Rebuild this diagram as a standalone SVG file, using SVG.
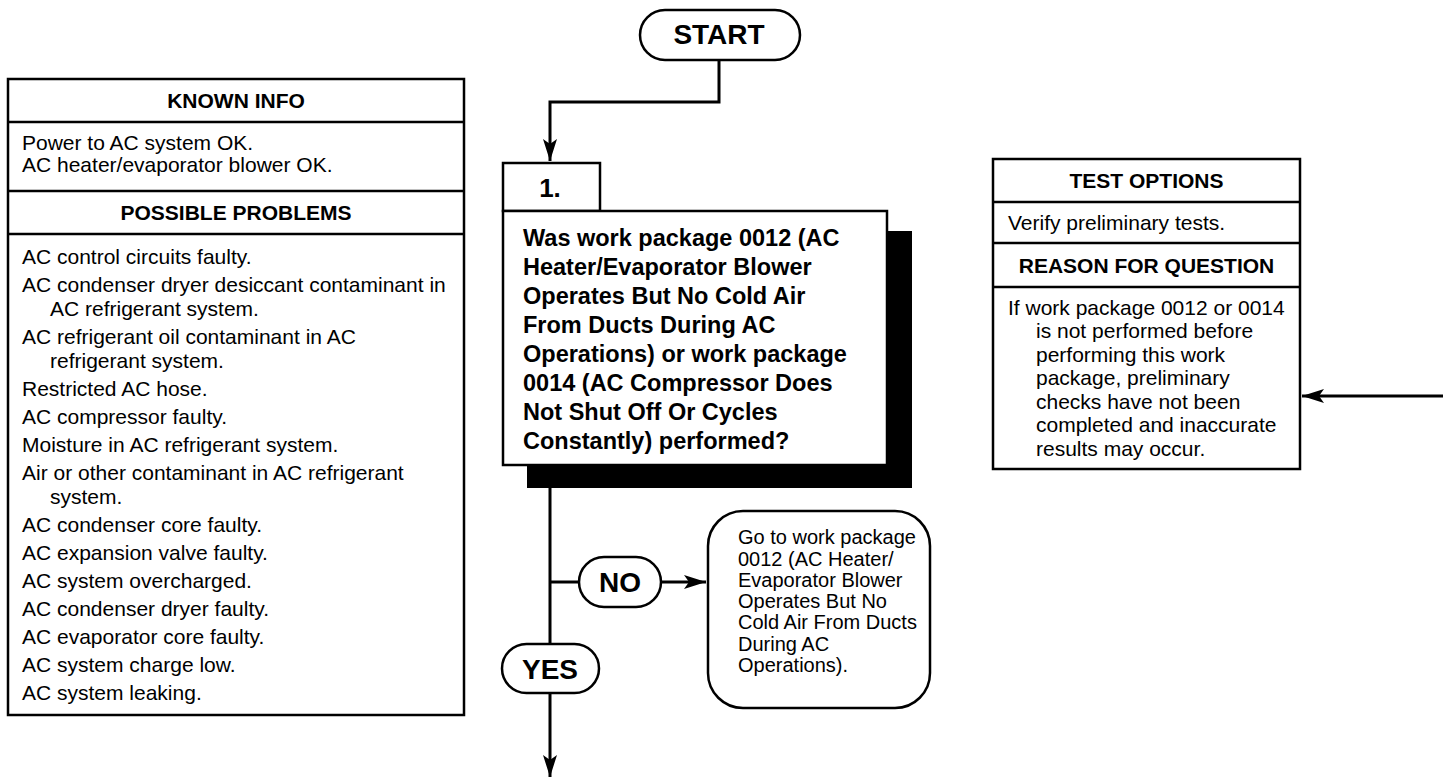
<svg xmlns="http://www.w3.org/2000/svg" width="1450" height="782" viewBox="0 0 1450 782">
<style>
.box{fill:#fff;stroke:#000;stroke-width:2.5}
.sep{stroke:#000;stroke-width:2.5}
.t{font-family:"Liberation Sans",Arial,sans-serif;font-size:21px;fill:#000}
.h{font-family:"Liberation Sans",Arial,sans-serif;font-size:21px;font-weight:bold;fill:#000;text-anchor:middle}
.q{font-family:"Liberation Sans",Arial,sans-serif;font-size:23.5px;font-weight:bold;fill:#000}
.pill{font-family:"Liberation Sans",Arial,sans-serif;font-size:28px;font-weight:bold;fill:#000;text-anchor:middle}
.g{font-family:"Liberation Sans",Arial,sans-serif;font-size:20px;fill:#000}
.c{fill:none;stroke:#000;stroke-width:3}
</style>
<defs>
<marker id="ah" markerUnits="userSpaceOnUse" markerWidth="24" markerHeight="16" refX="22" refY="7" orient="auto">
<path d="M0,0 L22,7 L0,14 L5,7 z" fill="#000"/>
</marker>
</defs>

<g id="connectors">
<path class="c" d="M719,60 V102 H550 V161" marker-end="url(#ah)"/>
<path class="c" d="M550,488 V777" marker-end="url(#ah)"/>
<path class="c" d="M550,582 H579"/>
<path class="c" d="M661,582 H706" marker-end="url(#ah)"/>
<path class="c" d="M1443,396 H1302" marker-end="url(#ah)"/>
</g>

<g id="known-info">
<rect class="box" x="8" y="79" width="456" height="636"/>
<line class="sep" x1="8" y1="122" x2="464" y2="122"/>
<line class="sep" x1="8" y1="191" x2="464" y2="191"/>
<line class="sep" x1="8" y1="234" x2="464" y2="234"/>
<text class="h" x="236" y="108">KNOWN INFO</text>
<text class="t" x="22" y="150">Power to AC system OK.</text>
<text class="t" x="22" y="171.5">AC heater/evaporator blower OK.</text>
<text class="h" x="236" y="220">POSSIBLE PROBLEMS</text>
<text class="t" x="22" y="263.5">AC control circuits faulty.</text>
<text class="t" x="22" y="291.5">AC condenser dryer desiccant contaminant in</text>
<text class="t" x="50" y="315.5">AC refrigerant system.</text>
<text class="t" x="22" y="343.5">AC refrigerant oil contaminant in AC</text>
<text class="t" x="50" y="367.5">refrigerant system.</text>
<text class="t" x="22" y="395.5">Restricted AC hose.</text>
<text class="t" x="22" y="423.5">AC compressor faulty.</text>
<text class="t" x="22" y="451.5">Moisture in AC refrigerant system.</text>
<text class="t" x="22" y="479.5">Air or other contaminant in AC refrigerant</text>
<text class="t" x="50" y="503.5">system.</text>
<text class="t" x="22" y="531.5">AC condenser core faulty.</text>
<text class="t" x="22" y="559.5">AC expansion valve faulty.</text>
<text class="t" x="22" y="587.5">AC system overcharged.</text>
<text class="t" x="22" y="615.5">AC condenser dryer faulty.</text>
<text class="t" x="22" y="643.5">AC evaporator core faulty.</text>
<text class="t" x="22" y="671.5">AC system charge low.</text>
<text class="t" x="22" y="699.5">AC system leaking.</text>
</g>

<g id="start">
<rect class="box" x="640" y="10" width="160" height="50" rx="25"/>
<text class="pill" x="719" y="44">START</text>
</g>

<g id="step1">
<rect x="527" y="231" width="385" height="257" fill="#000"/>
<rect class="box" x="503" y="163" width="97" height="48"/>
<text class="pill" x="550" y="197" style="font-size:26px">1.</text>
<rect class="box" x="503" y="211" width="384" height="254"/>
<text class="q" x="523" y="245.5">Was work package 0012 (AC</text>
<text class="q" x="523" y="274.5">Heater/Evaporator Blower</text>
<text class="q" x="523" y="303.5">Operates But No Cold Air</text>
<text class="q" x="523" y="332.5">From Ducts During AC</text>
<text class="q" x="523" y="361.5">Operations) or work package</text>
<text class="q" x="523" y="390.5">0014 (AC Compressor Does</text>
<text class="q" x="523" y="419.5">Not Shut Off Or Cycles</text>
<text class="q" x="523" y="448.5">Constantly) performed?</text>
</g>

<g id="no">
<rect class="box" x="579" y="557" width="82" height="50" rx="25"/>
<text class="pill" x="620" y="592">NO</text>
</g>

<g id="yes">
<rect class="box" x="502" y="644" width="97" height="49" rx="24.5"/>
<text class="pill" x="550" y="678.5">YES</text>
</g>

<g id="goto">
<rect class="box" x="708" y="511" width="222" height="197" rx="35"/>
<text class="g" x="738" y="544">Go to work package</text>
<text class="g" x="738" y="565.5">0012 (AC Heater/</text>
<text class="g" x="738" y="586.5">Evaporator Blower</text>
<text class="g" x="738" y="607.5">Operates But No</text>
<text class="g" x="738" y="629">Cold Air From Ducts</text>
<text class="g" x="738" y="650.5">During AC</text>
<text class="g" x="738" y="672">Operations).</text>
</g>

<g id="test-options">
<rect class="box" x="993" y="159" width="307" height="310"/>
<line class="sep" x1="993" y1="202" x2="1300" y2="202"/>
<line class="sep" x1="993" y1="243" x2="1300" y2="243"/>
<line class="sep" x1="993" y1="287" x2="1300" y2="287"/>
<text class="h" x="1146.5" y="188">TEST OPTIONS</text>
<text class="t" x="1008" y="230">Verify preliminary tests.</text>
<text class="h" x="1146.5" y="273">REASON FOR QUESTION</text>
<text class="t" x="1008" y="314.5">If work package 0012 or 0014</text>
<text class="t" x="1036" y="338">is not performed before</text>
<text class="t" x="1036" y="361.5">performing this work</text>
<text class="t" x="1036" y="385">package, preliminary</text>
<text class="t" x="1036" y="408.5">checks have not been</text>
<text class="t" x="1036" y="432">completed and inaccurate</text>
<text class="t" x="1036" y="455.5">results may occur.</text>
</g>
</svg>
